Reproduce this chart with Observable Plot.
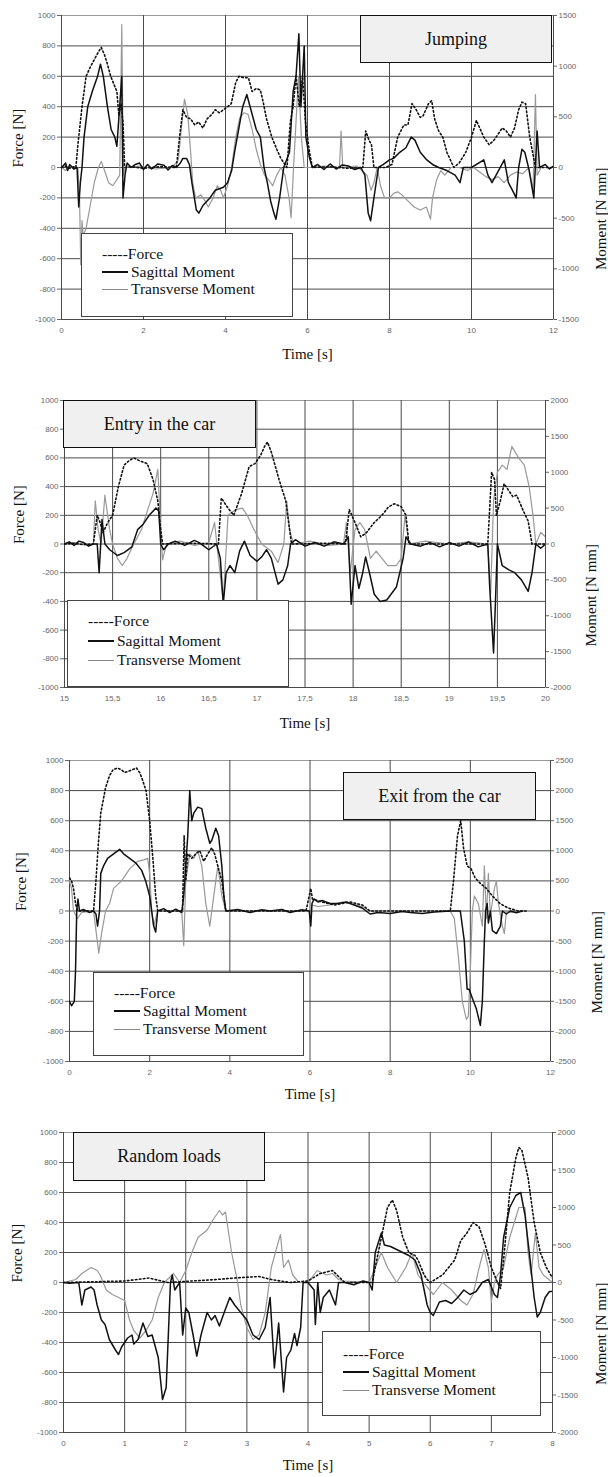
<!DOCTYPE html>
<html><head><meta charset="utf-8">
<script src="https://cdn.jsdelivr.net/npm/d3@7"></script>
<script src="https://cdn.jsdelivr.net/npm/@observablehq/plot@0.6"></script>
<style>
body{margin:0;background:#fff;}
#root{position:relative;width:608px;height:1477px;overflow:hidden;background:#fff;}
.wrap{position:absolute;left:0;}
.title{position:absolute;box-sizing:border-box;background:#f0f0f0;border:1.5px solid #111;font-family:"Liberation Serif",serif;font-size:18px;display:flex;align-items:center;justify-content:center;color:#111;}
.legend{position:absolute;box-sizing:border-box;background:#fff;border:1px solid #444;font-family:"Liberation Serif",serif;font-size:15.5px;color:#111;}
.row{position:absolute;left:20px;white-space:nowrap;line-height:16px;height:16px;}
.sw{display:inline-block;width:26px;vertical-align:middle;margin-right:3px;position:relative;top:-1px;}
</style></head>
<body><div id="root"></div>
<script>
// ---------- Panel 1: Jumping (Force N, moments N mm) ----------
const jumpForce = [[0,0],[0.1,10],[0.2,-5],[0.3,5],[0.35,0],[0.4,150],[0.5,400],[0.6,600],[0.7,660],[0.78,700],[0.9,760],[0.97,790],[1.05,740],[1.12,680],[1.2,600],[1.26,560],[1.35,500],[1.4,340],[1.45,420],[1.5,300],[1.54,0],[1.7,5],[2.0,-5],[2.4,5],[2.8,0],[2.88,200],[2.96,380],[3.05,330],[3.15,320],[3.25,280],[3.34,300],[3.45,260],[3.55,320],[3.67,350],[3.75,380],[3.85,360],[3.95,380],[4.05,400],[4.14,420],[4.25,560],[4.33,600],[4.45,590],[4.56,590],[4.65,500],[4.75,520],[4.85,510],[4.92,430],[5.0,320],[5.13,200],[5.25,120],[5.35,60],[5.5,0],[5.58,300],[5.65,400],[5.72,600],[5.8,400],[5.88,600],[5.95,300],[6.05,100],[6.12,0],[6.5,5],[7.0,-5],[7.35,0],[7.42,240],[7.5,180],[7.56,150],[7.62,0],[7.9,0],[8.06,20],[8.2,200],[8.35,280],[8.45,280],[8.55,420],[8.65,380],[8.75,330],[8.82,340],[8.95,420],[9.03,440],[9.1,320],[9.2,240],[9.3,200],[9.4,100],[9.57,0],[9.7,30],[9.86,100],[10.0,200],[10.12,310],[10.2,260],[10.3,200],[10.43,150],[10.55,180],[10.65,220],[10.75,260],[10.85,240],[10.95,200],[11.05,260],[11.15,380],[11.23,430],[11.32,420],[11.42,200],[11.56,0],[12,0]];
const jumpSagittal = [[0,0],[0.1,45],[0.15,-30],[0.2,30],[0.3,-15],[0.38,0],[0.42,-390],[0.46,-150],[0.5,0],[0.55,300],[0.64,600],[0.75,750],[0.88,900],[0.95,1020],[1.02,900],[1.12,600],[1.21,375],[1.3,300],[1.35,210],[1.4,495],[1.47,900],[1.5,-300],[1.55,-75],[1.6,45],[1.7,0],[1.8,30],[1.9,45],[2.0,-20],[2.1,30],[2.2,-15],[2.35,35],[2.5,22],[2.6,-25],[2.7,20],[2.8,0],[2.9,45],[2.96,90],[3.05,90],[3.12,30],[3.18,-150],[3.29,-420],[3.35,-450],[3.45,-375],[3.55,-330],[3.62,-300],[3.75,-225],[3.85,-210],[3.95,-195],[4.05,-150],[4.15,-30],[4.22,150],[4.32,375],[4.42,600],[4.52,720],[4.6,600],[4.75,375],[4.85,300],[4.94,0],[5.02,-150],[5.1,-330],[5.18,-450],[5.23,-510],[5.32,-300],[5.42,0],[5.56,150],[5.65,750],[5.72,900],[5.79,1320],[5.84,600],[5.92,1200],[5.96,300],[6.05,90],[6.12,0],[6.25,30],[6.4,-20],[6.55,35],[6.7,-15],[6.85,25],[7.0,15],[7.15,-20],[7.3,0],[7.4,-75],[7.48,-450],[7.54,-525],[7.62,-300],[7.73,0],[7.85,30],[8.0,75],[8.1,90],[8.25,150],[8.4,195],[8.53,300],[8.62,270],[8.75,150],[8.91,75],[9.05,30],[9.2,0],[9.4,-30],[9.6,-75],[9.72,-150],[9.8,0],[10.0,0],[10.3,75],[10.4,-75],[10.5,-150],[10.6,-75],[10.8,75],[10.9,-150],[11.0,-225],[11.09,-300],[11.15,0],[11.23,180],[11.3,150],[11.4,-15],[11.52,-300],[11.6,360],[11.66,0],[11.8,30],[11.9,-15],[12,15]];
const jumpTransverse = [[0,0],[0.1,-30],[0.2,15],[0.3,-15],[0.4,0],[0.44,-300],[0.47,-960],[0.5,-525],[0.53,-675],[0.6,-600],[0.7,-375],[0.8,-150],[0.9,0],[0.97,60],[1.05,-30],[1.15,-150],[1.25,-180],[1.35,-120],[1.42,-75],[1.47,1410],[1.51,-75],[1.55,0],[1.9,15],[2.3,-15],[2.7,0],[2.85,75],[2.92,375],[3.0,675],[3.08,525],[3.15,150],[3.2,-150],[3.27,-300],[3.4,-270],[3.5,-330],[3.58,-390],[3.7,-300],[3.8,-180],[3.88,-225],[3.95,-300],[4.05,-180],[4.15,0],[4.25,300],[4.35,495],[4.45,540],[4.55,525],[4.65,375],[4.75,180],[4.85,30],[4.95,-75],[5.05,-120],[5.15,-180],[5.25,-75],[5.35,0],[5.45,-75],[5.55,-300],[5.6,-495],[5.66,0],[5.72,450],[5.78,900],[5.85,300],[5.92,0],[6.05,0],[6.4,15],[6.78,0],[6.82,360],[6.86,0],[7.2,15],[7.45,-75],[7.55,-225],[7.62,-150],[7.7,0],[7.78,-180],[7.88,-300],[8.0,-300],[8.1,-255],[8.2,-240],[8.3,-270],[8.45,-330],[8.6,-390],[8.75,-420],[8.9,-390],[9.0,-510],[9.05,-300],[9.15,-120],[9.25,-30],[9.35,-75],[9.5,0],[9.7,0],[9.9,-30],[10.05,0],[10.2,-45],[10.35,-90],[10.5,-120],[10.65,-90],[10.8,-150],[10.95,-75],[11.1,-45],[11.25,-60],[11.4,0],[11.5,-225],[11.56,720],[11.6,-75],[11.7,0],[12,0]];

// ---------- Panel 2: Entry in the car ----------
const entryForce = [[15,0],[15.1,5],[15.2,-5],[15.3,0],[15.34,200],[15.37,150],[15.4,80],[15.45,150],[15.5,200],[15.56,400],[15.62,550],[15.67,580],[15.72,600],[15.78,580],[15.86,560],[15.92,450],[15.97,300],[16.0,100],[16.02,0],[16.3,5],[16.6,0],[16.63,320],[16.7,250],[16.76,200],[16.84,350],[16.92,540],[16.98,560],[17.04,620],[17.08,680],[17.11,710],[17.15,640],[17.23,450],[17.3,300],[17.33,150],[17.36,0],[17.7,5],[17.92,0],[17.96,240],[18.02,150],[18.08,50],[18.14,80],[18.22,150],[18.3,200],[18.37,260],[18.43,280],[18.5,260],[18.55,200],[18.58,0],[19.0,0],[19.4,0],[19.44,500],[19.47,450],[19.49,200],[19.53,300],[19.57,420],[19.62,370],[19.66,330],[19.7,340],[19.77,230],[19.82,160],[19.86,0],[20,0]];
const entrySagittal = [[15,0],[15.05,30],[15.1,-20],[15.15,40],[15.2,20],[15.25,-30],[15.3,0],[15.34,0],[15.36,-400],[15.39,340],[15.42,0],[15.47,-80],[15.55,-160],[15.62,-120],[15.7,-40],[15.76,200],[15.82,280],[15.88,400],[15.95,500],[15.98,460],[16.0,0],[16.03,-80],[16.08,0],[16.15,40],[16.25,-20],[16.35,50],[16.4,20],[16.45,-30],[16.5,-80],[16.58,0],[16.62,-200],[16.65,-840],[16.68,-400],[16.72,-300],[16.77,-400],[16.82,-100],[16.87,40],[16.93,-160],[17.0,-240],[17.05,-180],[17.1,-80],[17.15,-200],[17.22,-560],[17.27,-500],[17.32,-300],[17.35,0],[17.4,60],[17.5,-30],[17.6,20],[17.7,-30],[17.8,30],[17.9,0],[17.95,100],[17.98,-840],[18.02,-300],[18.06,-620],[18.1,-400],[18.13,-180],[18.17,-400],[18.22,-700],[18.28,-800],[18.35,-780],[18.45,-600],[18.52,-200],[18.55,100],[18.6,0],[18.7,-30],[18.8,20],[18.9,-40],[19.0,20],[19.1,-30],[19.2,30],[19.3,-40],[19.4,0],[19.42,-600],[19.46,-1520],[19.48,-800],[19.5,0],[19.55,-300],[19.62,-360],[19.68,-400],[19.75,-500],[19.82,-660],[19.86,-400],[19.9,0],[19.95,-60],[20,0]];
const entryTransverse = [[15,0],[15.1,20],[15.2,0],[15.3,0],[15.32,600],[15.35,200],[15.38,0],[15.42,680],[15.47,200],[15.5,0],[15.55,-200],[15.6,-300],[15.65,-200],[15.72,0],[15.8,200],[15.87,500],[15.92,700],[15.97,1040],[16.0,200],[16.02,-220],[16.06,0],[16.2,40],[16.35,-20],[16.5,20],[16.56,300],[16.6,-200],[16.65,-800],[16.7,400],[16.78,480],[16.85,500],[16.9,400],[16.97,200],[17.05,0],[17.15,-100],[17.22,-260],[17.28,0],[17.31,600],[17.34,200],[17.38,0],[17.55,40],[17.75,-20],[17.9,0],[17.93,300],[17.97,-400],[18.02,200],[18.07,300],[18.12,200],[18.18,-200],[18.24,-100],[18.3,-200],[18.36,-300],[18.45,-300],[18.5,-200],[18.54,400],[18.58,0],[18.75,40],[19.0,0],[19.2,30],[19.4,0],[19.43,-700],[19.46,600],[19.5,1000],[19.55,1100],[19.6,1040],[19.65,1360],[19.72,1200],[19.78,1100],[19.83,800],[19.87,400],[19.9,0],[19.95,160],[20,100]];

// ---------- Panel 3: Exit from the car ----------
const exitForce = [[0,220],[0.05,200],[0.1,150],[0.15,50],[0.2,0],[0.4,0],[0.6,0],[0.66,200],[0.72,450],[0.78,650],[0.9,820],[1.0,900],[1.09,940],[1.2,950],[1.28,940],[1.38,920],[1.48,930],[1.58,940],[1.67,950],[1.75,920],[1.81,880],[1.91,800],[2.0,600],[2.08,350],[2.15,100],[2.2,0],[2.5,0],[2.82,0],[2.86,500],[2.9,200],[2.95,380],[3.05,350],[3.15,380],[3.25,400],[3.35,330],[3.45,380],[3.55,420],[3.62,380],[3.7,300],[3.8,200],[3.9,0],[5.9,0],[6.02,150],[6.06,80],[6.3,60],[6.6,40],[7.0,60],[7.3,40],[7.5,0],[9.5,0],[9.58,200],[9.68,500],[9.76,600],[9.83,420],[9.92,300],[10.02,280],[10.12,220],[10.26,180],[10.4,150],[10.55,100],[10.74,50],[10.94,20],[11.2,0],[11.4,0]];
const exitSagittal = [[0,-1500],[0.05,-1575],[0.12,-1500],[0.15,-1000],[0.18,0],[0.21,200],[0.25,0],[0.35,25],[0.5,-25],[0.6,0],[0.66,-50],[0.7,-250],[0.75,0],[0.78,625],[0.85,750],[0.95,875],[1.1,950],[1.25,1025],[1.35,950],[1.5,875],[1.65,800],[1.8,675],[1.9,500],[2.0,250],[2.05,0],[2.1,-250],[2.15,-350],[2.2,0],[2.35,40],[2.5,-25],[2.65,30],[2.8,-25],[2.85,250],[2.9,750],[2.95,1250],[3.0,2000],[3.05,1500],[3.1,1625],[3.2,1725],[3.3,1700],[3.4,1375],[3.5,1125],[3.55,1175],[3.65,1375],[3.72,1250],[3.8,750],[3.85,250],[3.9,0],[4.2,25],[4.5,-25],[4.8,20],[5.0,0],[5.3,25],[5.5,-25],[5.8,20],[5.98,0],[6.02,-250],[6.05,125],[6.1,200],[6.2,150],[6.3,175],[6.5,125],[6.7,125],[6.9,150],[7.1,100],[7.3,50],[7.5,-50],[7.7,-25],[8.0,-40],[8.3,-10],[8.5,-25],[8.8,-40],[9.1,-15],[9.5,0],[9.75,0],[9.85,-500],[9.92,-1300],[9.97,-1300],[10.05,-1450],[10.15,-1625],[10.25,-1900],[10.3,-1500],[10.35,-500],[10.38,0],[10.42,125],[10.45,-200],[10.5,0],[10.55,-325],[10.65,-375],[10.75,-250],[10.8,0],[10.9,-50],[11.0,0],[11.15,-30],[11.3,0]];
const exitTransverse = [[0,500],[0.05,375],[0.1,0],[0.2,-125],[0.3,-25],[0.6,0],[0.67,-375],[0.73,-700],[0.8,-375],[0.9,0],[1.0,125],[1.1,375],[1.3,500],[1.5,700],[1.7,825],[1.85,850],[1.95,875],[2.0,625],[2.05,0],[2.1,-250],[2.2,0],[2.8,0],[2.85,-575],[2.9,500],[3.0,950],[3.1,875],[3.2,1000],[3.3,750],[3.4,125],[3.5,-250],[3.6,250],[3.7,750],[3.8,250],[3.9,0],[5.98,0],[6.05,100],[6.2,75],[6.5,100],[6.8,150],[7.2,100],[7.5,0],[9.5,0],[9.6,-125],[9.7,-750],[9.8,-1500],[9.9,-1800],[9.95,-1750],[10.0,-1000],[10.05,0],[10.1,250],[10.2,125],[10.3,-250],[10.35,750],[10.4,-125],[10.45,625],[10.5,-75],[10.6,375],[10.65,500],[10.7,125],[10.8,-250],[10.85,-375],[10.9,0],[11.0,-25],[11.3,0]];

// ---------- Panel 4: Random loads ----------
const randForce = [[0,0],[0.5,5],[1,10],[1.4,30],[1.7,0],[2.1,10],[2.5,20],[2.8,30],[3.2,40],[3.4,20],[3.7,0],[4.0,10],[4.2,60],[4.4,80],[4.5,40],[4.6,0],[5.05,0],[5.1,100],[5.2,300],[5.3,500],[5.38,550],[5.45,480],[5.55,300],[5.65,200],[5.75,180],[5.8,150],[5.9,50],[5.95,20],[6.0,0],[6.2,50],[6.4,150],[6.5,280],[6.6,330],[6.7,400],[6.8,370],[6.9,250],[7.0,100],[7.1,0],[7.15,-40],[7.2,150],[7.3,600],[7.4,830],[7.45,900],[7.5,880],[7.6,700],[7.7,400],[7.8,200],[7.9,100],[8.0,30]];
const randSagittal = [[0,0],[0.1,-10],[0.25,0],[0.3,-300],[0.35,-100],[0.45,-60],[0.5,-100],[0.55,-300],[0.62,-500],[0.68,-560],[0.75,-760],[0.85,-900],[0.9,-960],[0.95,-860],[1.05,-740],[1.12,-700],[1.15,-820],[1.22,-760],[1.3,-540],[1.38,-720],[1.45,-700],[1.55,-1000],[1.62,-1560],[1.68,-1400],[1.75,0],[1.78,100],[1.82,-100],[1.9,0],[1.95,-700],[2.0,-340],[2.05,-400],[2.12,-700],[2.18,-980],[2.25,-700],[2.35,-400],[2.42,-500],[2.48,-440],[2.55,-580],[2.62,-420],[2.72,-200],[2.8,-300],[2.9,-400],[3.0,-500],[3.1,-700],[3.2,-760],[3.3,-600],[3.38,-200],[3.45,-1140],[3.52,-540],[3.6,-1460],[3.65,-1000],[3.72,-900],[3.78,-680],[3.82,-840],[3.88,-600],[3.92,0],[4.0,0],[4.1,-100],[4.12,-560],[4.16,0],[4.2,-400],[4.25,-200],[4.35,-100],[4.45,-300],[4.5,0],[4.6,0],[4.75,-30],[4.9,20],[5.0,0],[5.05,-100],[5.1,400],[5.2,660],[5.25,500],[5.35,480],[5.45,440],[5.55,400],[5.65,360],[5.75,300],[5.85,100],[5.95,-300],[6.0,-400],[6.05,-440],[6.15,-260],[6.25,-240],[6.35,-280],[6.45,-200],[6.55,-100],[6.65,-160],[6.75,-120],[6.85,0],[6.95,40],[7.0,-60],[7.05,-160],[7.1,-200],[7.15,100],[7.2,600],[7.3,1000],[7.4,1160],[7.48,1200],[7.55,900],[7.62,400],[7.7,-200],[7.75,-460],[7.8,-400],[7.88,-200],[7.95,-120],[8.0,-120]];
const randTransverse = [[0,0],[0.2,40],[0.3,120],[0.45,200],[0.55,160],[0.6,100],[0.7,-100],[0.8,-160],[0.9,-200],[1.0,-240],[1.08,-500],[1.15,-640],[1.25,-740],[1.35,-640],[1.45,-500],[1.55,-200],[1.65,0],[1.8,120],[1.9,0],[2.0,160],[2.1,400],[2.2,600],[2.35,700],[2.45,840],[2.55,960],[2.6,900],[2.65,940],[2.75,400],[2.85,0],[2.9,-300],[3.0,-600],[3.1,-760],[3.2,-700],[3.3,-400],[3.4,200],[3.5,500],[3.55,640],[3.6,200],[3.68,300],[3.75,100],[3.85,0],[4.0,0],[4.15,160],[4.3,100],[4.4,120],[4.5,40],[4.6,20],[5.0,0],[5.1,200],[5.2,400],[5.3,200],[5.45,0],[5.6,200],[5.7,400],[5.8,100],[5.95,-60],[6.05,-160],[6.2,0],[6.35,-100],[6.5,-240],[6.6,-300],[6.7,-160],[6.8,200],[6.88,440],[6.95,200],[7.0,-260],[7.05,0],[7.1,100],[7.2,200],[7.3,600],[7.45,1000],[7.55,1000],[7.6,400],[7.65,100],[7.72,660],[7.78,200],[7.85,100],[8.0,0]];

// ---------- axis ticks & labels ----------
const forceTicks = [-1000,-800,-600,-400,-200,0,200,400,600,800,1000];
const ticks0to12 = [0,2,4,6,8,10,12];
const ticks15to20 = [15,15.5,16,16.5,17,17.5,18,18.5,19,19.5,20];
const ticks0to8 = [0,1,2,3,4,5,6,7,8];
const panelTitles = ["Jumping","Entry in the car","Exit from the car","Random loads"];
const seriesNames = ["Force","Sagittal Moment","Transverse Moment"];
const momentMax = [1500,2000,2500,2000];

const panels = [
  {top:0,h:370,mt:15,mb:51,ml:61,mr:55,xDomain:[0,12],xTicks:ticks0to12,mMax:momentMax[0],force:jumpForce,sag:jumpSagittal,trans:jumpTransverse,
   xlDy:39,flDx:-43,mlDx:48,title:panelTitles[0],tBox:[360,15,192,48],lBox:[81,233,212,84],rows:[20,38,55]},
  {top:370,h:370,mt:30,mb:53,ml:64,mr:63,xDomain:[15,20],xTicks:ticks15to20,mMax:momentMax[1],force:entryForce,sag:entrySagittal,trans:entryTransverse,
   xlDy:40,flDx:-45,mlDx:46,title:panelTitles[1],tBox:[63,400,193,48],lBox:[67,600,222,87],rows:[20,40,59]},
  {top:740,h:370,mt:20,mb:49,ml:69,mr:58,xDomain:[0,12],xTicks:ticks0to12,mMax:momentMax[2],force:exitForce,sag:exitSagittal,trans:exitTransverse,
   xlDy:37,flDx:-48,mlDx:47,title:panelTitles[2],tBox:[343,772,193,48],lBox:[93,972,211,84],rows:[20,38,56]},
  {top:1110,h:367,mt:22,mb:45,ml:63,mr:56,xDomain:[0,8],xTicks:ticks0to8,mMax:momentMax[3],force:randForce,sag:randSagittal,trans:randTransverse,
   xlDy:37,flDx:-46,mlDx:49,title:panelTitles[3],tBox:[73,1132,192,49],lBox:[322,1331,219,85],rows:[22,40,58]}
];

const root = document.getElementById("root");
const serif = "'Liberation Serif','Times New Roman',serif";
const fmtNum = d => String(d).replace(".", ",");

panels.forEach(p => {
  const k = 1000 / p.mMax;
  const mTicks = d3.range(-p.mMax, p.mMax + 1, 500).map(m => m * k);
  const X = d => d[0];
  const svg = Plot.plot({
    width: 608, height: p.h,
    marginTop: p.mt, marginBottom: p.mb, marginLeft: p.ml, marginRight: p.mr,
    style: {background: "transparent", fontFamily: "'Liberation Sans',Arial,sans-serif", overflow: "visible"},
    x: {domain: p.xDomain},
    y: {domain: [-1000, 1000]},
    marks: [
      Plot.frame({stroke: "#999"}),
      Plot.gridY(forceTicks.filter(d => d < 1000), {stroke: "#4a4a4a", strokeOpacity: 1}),
      Plot.gridX(p.xTicks, {stroke: "#4a4a4a", strokeOpacity: 1}),
      Plot.line(p.trans, {x: X, y: d => d[1] * k, stroke: "#999", strokeWidth: 1.2, clip: true}),
      Plot.line(p.sag, {x: X, y: d => d[1] * k, stroke: "#111", strokeWidth: 1.5, clip: true}),
      Plot.line(p.force, {x: X, y: d => d[1], stroke: "#111", strokeWidth: 1.6, strokeDasharray: "1.6,2.4", clip: true}),
      Plot.axisY(forceTicks, {anchor: "left", tickSize: 4, tickPadding: 2, fontSize: 8, color: "#666", tickFormat: d => String(d), label: null}),
      Plot.axisY(mTicks, {anchor: "right", tickSize: 3, tickPadding: 2, fontSize: 8, color: "#666", tickFormat: d => String(Math.round(d / k)), label: null}),
      Plot.axisX(p.xTicks, {anchor: "bottom", tickSize: 0, tickPadding: 8, fontSize: 8, color: "#666", tickFormat: fmtNum, label: null}),
      Plot.text(["Time [s]"], {frameAnchor: "bottom", dy: p.xlDy, fontSize: 15, fontFamily: serif, fill: "#111"}),
      Plot.text(["Force [N]"], {frameAnchor: "left", dx: p.flDx, rotate: -90, fontSize: 15, fontFamily: serif, fill: "#111"}),
      Plot.text(["Moment [N mm]"], {frameAnchor: "right", dx: p.mlDx, rotate: -90, fontSize: 15, fontFamily: serif, fill: "#111"})
    ]
  });
  const wrap = document.createElement("div");
  wrap.className = "wrap";
  wrap.style.top = p.top + "px";
  wrap.appendChild(svg);
  root.appendChild(wrap);

  // title box
  const t = document.createElement("div");
  t.className = "title";
  Object.assign(t.style, {left: p.tBox[0] + "px", top: p.tBox[1] + "px", width: p.tBox[2] + "px", height: p.tBox[3] + "px"});
  t.textContent = p.title;
  root.appendChild(t);

  // legend box
  const lg = document.createElement("div");
  lg.className = "legend";
  Object.assign(lg.style, {left: p.lBox[0] + "px", top: p.lBox[1] + "px", width: p.lBox[2] + "px", height: p.lBox[3] + "px"});
  seriesNames.forEach((name, i) => {
    const r = document.createElement("div");
    r.className = "row";
    r.style.top = (p.rows[i] - 8) + "px";
    if (i === 0) {
      r.textContent = "-----" + name;
    } else {
      const sw = document.createElement("span");
      sw.className = "sw";
      sw.style.borderTop = i === 1 ? "2px solid #111" : "1.3px solid #888";
      r.appendChild(sw);
      r.appendChild(document.createTextNode(name));
    }
    lg.appendChild(r);
  });
  root.appendChild(lg);
});
</script>
</body></html>
